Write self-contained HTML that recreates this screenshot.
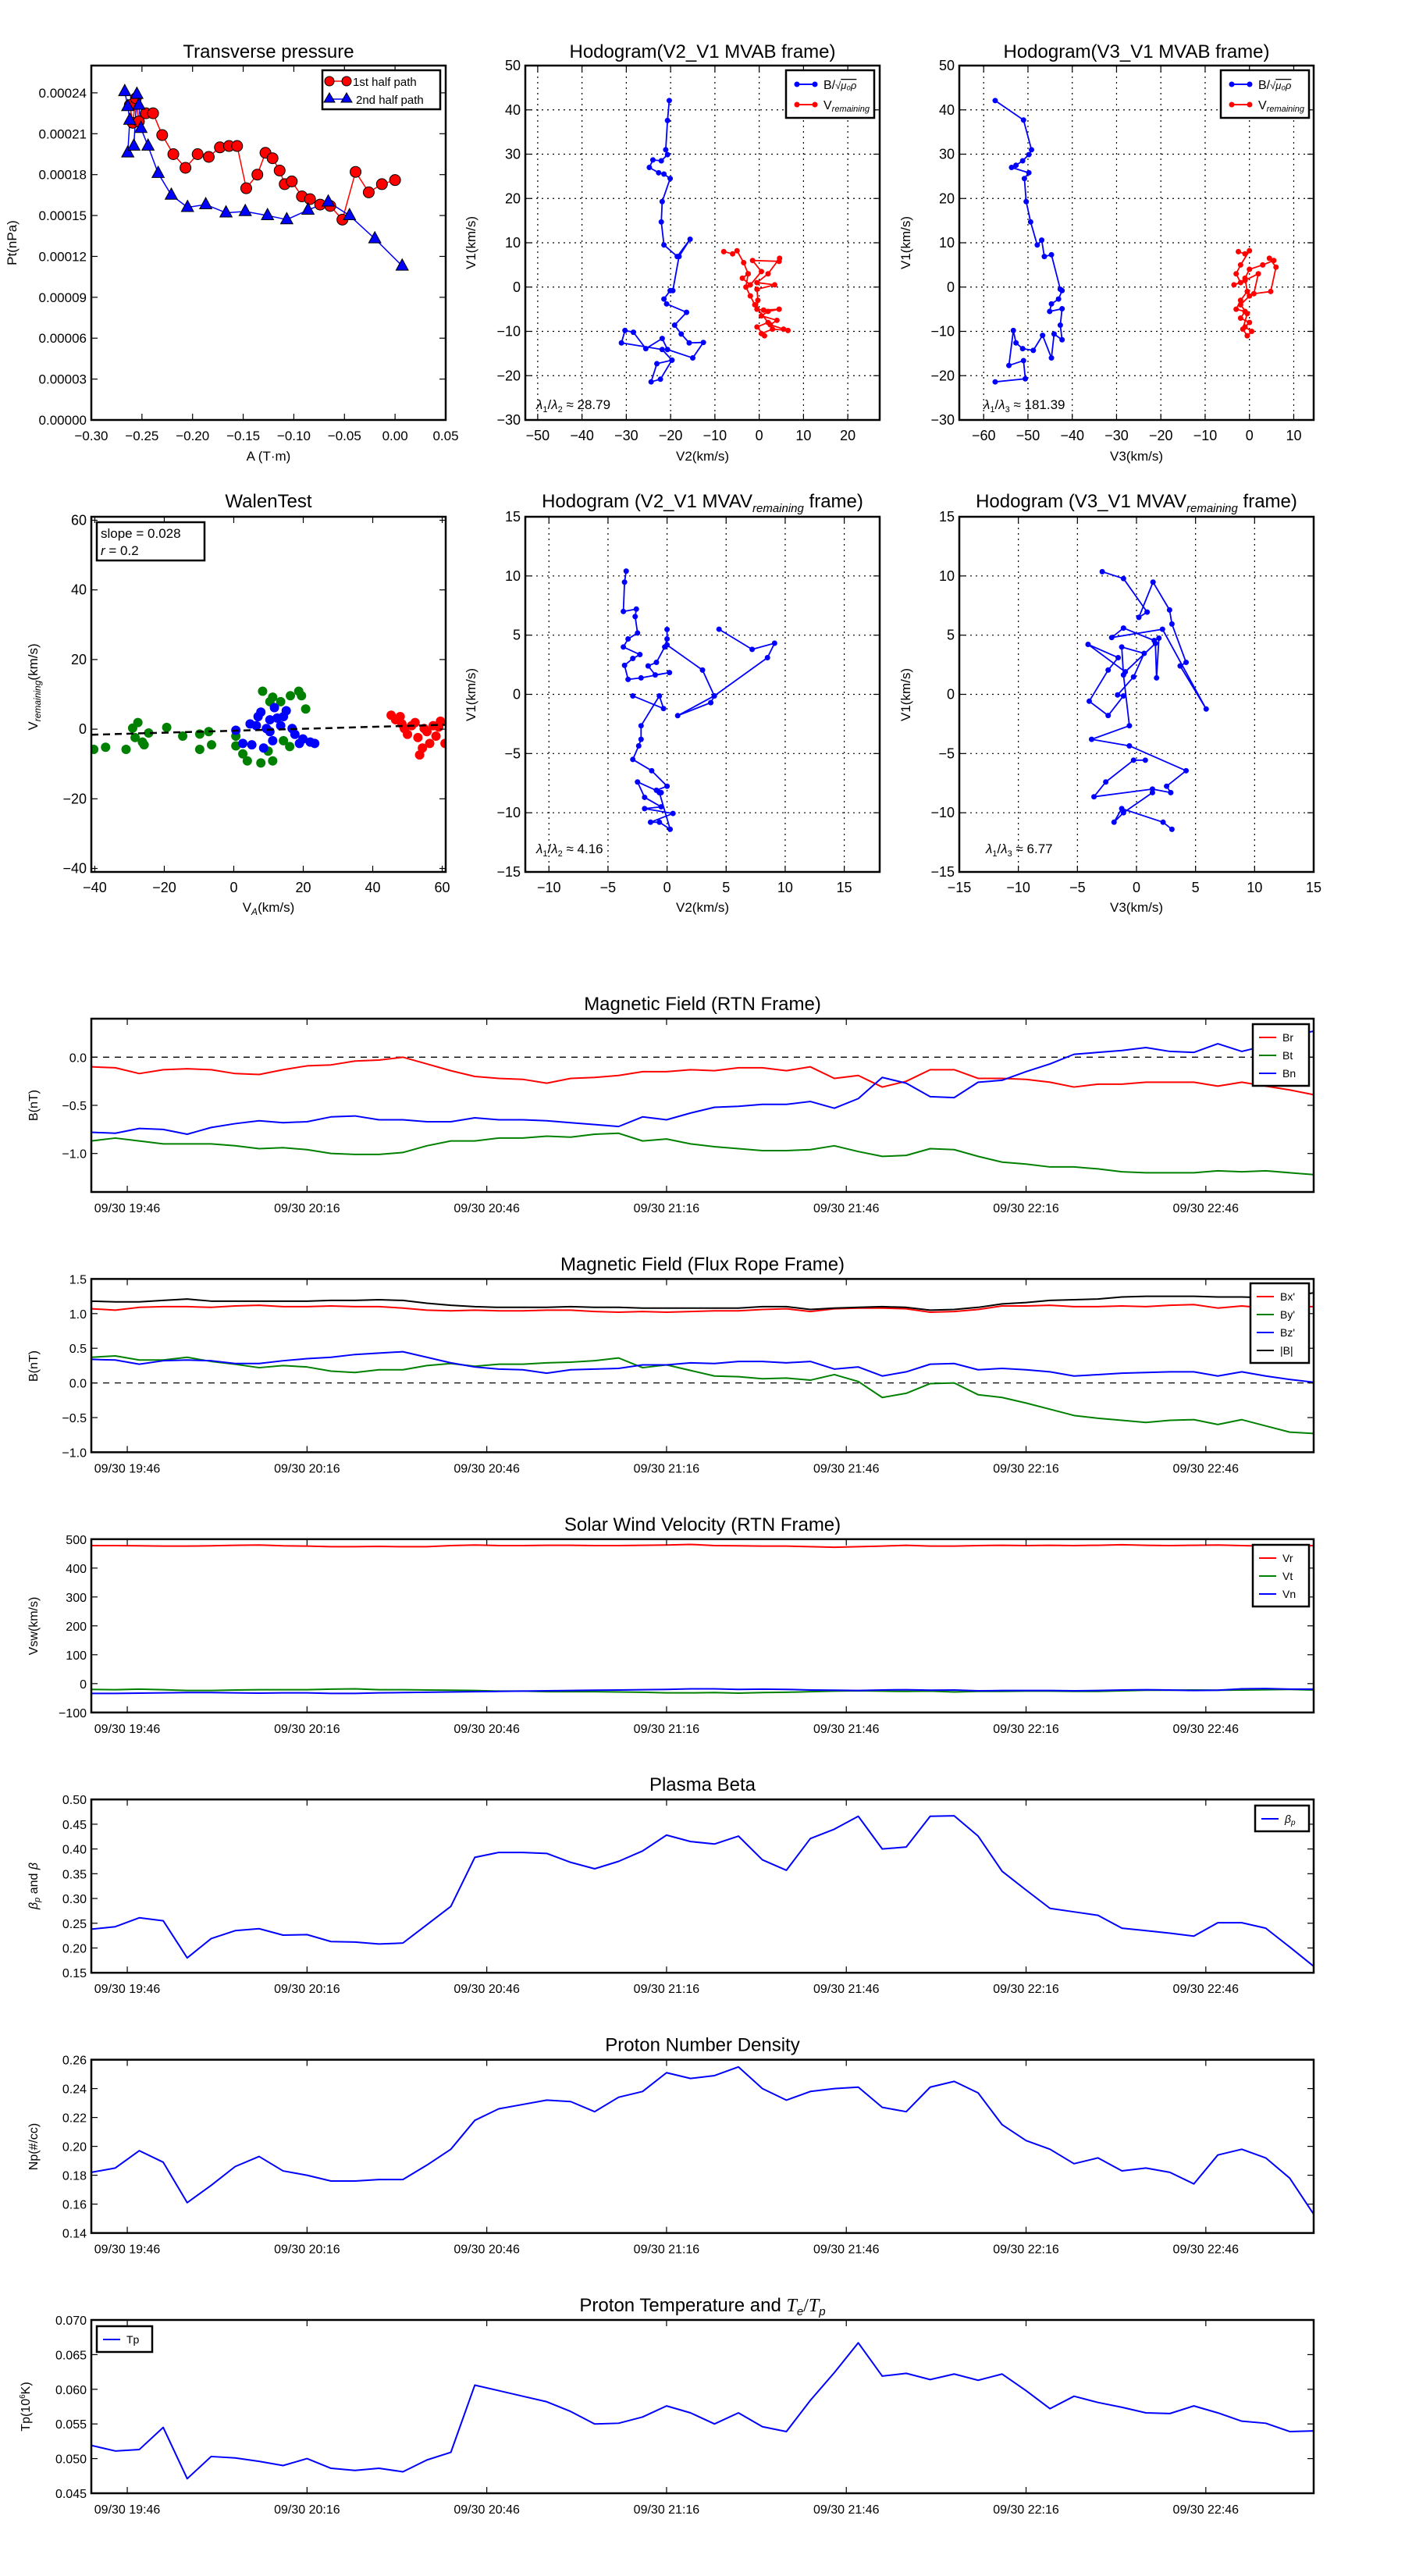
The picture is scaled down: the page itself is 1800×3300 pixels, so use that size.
<!DOCTYPE html>
<html><head><meta charset="utf-8">
<style>
html,body{margin:0;padding:0;background:#fff;}
svg{display:block;font-family:"Liberation Sans","DejaVu Sans",sans-serif;}
</style></head>
<body>
<svg id="fig" width="1800" height="3300" viewBox="0 0 1800 3300" xmlns="http://www.w3.org/2000/svg"></svg>
<script>
// ---------- DATA ----------
const trA1=[-0.262,-0.259,-0.256,-0.253,-0.246,-0.239,-0.230,-0.219,-0.207,-0.195,-0.184,-0.173,-0.164,-0.156,-0.147,-0.136,-0.128,-0.121,-0.114,-0.109,-0.102,-0.092,-0.084,-0.074,-0.064,-0.052,-0.039,-0.026,-0.013,0.000];
const trP1=[0.000231,0.000218,0.000236,0.000219,0.000225,0.000225,0.000209,0.000195,0.000185,0.000195,0.000193,0.000200,0.000201,0.000201,0.000170,0.000180,0.000196,0.000192,0.000183,0.000173,0.000175,0.000164,0.000162,0.000158,0.000157,0.000147,0.000182,0.000167,0.000173,0.000176];
const trA2=[-0.267,-0.264,-0.262,-0.264,-0.258,-0.255,-0.253,-0.251,-0.244,-0.234,-0.221,-0.205,-0.187,-0.167,-0.148,-0.126,-0.107,-0.086,-0.066,-0.045,-0.020,0.007];
const trP2=[0.000241,0.000230,0.000220,0.000196,0.000201,0.000239,0.000231,0.000214,0.000201,0.000181,0.000165,0.000156,0.000158,0.000152,0.000153,0.000150,0.000147,0.000154,0.000160,0.000150,0.000133,0.000113];

const h1bx=[-20.3,-20.7,-21.1,-20.7,-22.1,-24.0,-24.8,-22.7,-21.5,-20.1,-21.9,-22.1,-21.5,-18.5,-15.6,-18.1,-19.5,-20.1,-21.5,-20.9,-16.4,-19.1,-17.6,-15.8,-12.6,-15.0,-20.7,-21.9,-25.6,-28.4,-30.3,-31.1,-21.9,-19.7,-23.1,-24.4,-22.3,-19.7];
const h1by=[42.1,37.6,31.0,29.9,28.5,28.7,27.0,25.8,25.5,24.5,19.3,14.7,9.5,6.9,10.8,6.9,-0.8,-0.8,-2.7,-3.8,-5.7,-8.6,-10.6,-12.6,-12.5,-16.0,-14.1,-11.6,-13.9,-10.2,-9.8,-12.6,-14.1,-16.5,-17.3,-21.4,-20.8,-16.5];
const h1vx=[-8.0,-6.0,-5.0,-3.5,-2.5,-3.8,-2.0,0.5,-1.5,4.5,4.6,2.0,-0.5,3.5,-0.5,-0.3,-0.5,1.0,4.5,2.0,0.5,4.0,2.5,5.5,6.5,3.0,0.5,1.2,-0.5,2.0,-1.0,-2.0,-3.0,-2.5];
const h1vy=[8.0,7.5,8.2,5.5,3.0,2.0,0.5,3.5,6.0,5.8,6.5,3.0,1.0,0.5,-0.5,-3.0,-5.0,-5.2,-5.0,-5.5,-6.5,-7.5,-8.5,-9.5,-9.8,-9.5,-10.5,-11.0,-9.0,-8.0,-4.0,-2.0,0.0,3.0];
const h2bx=[-57.4,-51.0,-49.2,-49.8,-51.2,-52.7,-53.7,-49.8,-50.8,-50.4,-49.4,-47.9,-46.9,-46.3,-44.7,-42.7,-42.3,-43.1,-44.7,-45.1,-42.3,-42.7,-42.3,-44.1,-44.7,-46.7,-48.8,-51.2,-52.7,-53.3,-54.3,-51.0,-50.6,-57.4];
const h2by=[42.1,37.7,31.0,29.9,28.5,27.5,27.0,25.8,24.5,19.3,14.7,9.5,10.6,6.9,7.3,-0.5,-0.8,-2.7,-3.8,-5.5,-4.9,-8.6,-11.9,-10.6,-16.0,-10.9,-14.3,-13.9,-12.6,-9.8,-17.7,-16.6,-20.7,-21.4];
const h2vx=[-2.5,-1.0,0.0,-2.0,-3.0,-2.0,-3.5,-1.0,2.0,1.0,4.8,6.0,4.5,5.5,3.0,0.0,-1.0,-0.5,-2.0,-3.0,-1.0,-2.0,0.0,-1.0,0.5,-0.5,-1.5,-0.5,-2.0,0.0];
const h2vy=[8.0,7.5,8.2,5.0,3.0,1.0,0.5,1.5,3.0,-1.5,-1.0,4.5,6.5,6.0,5.0,4.0,2.0,-1.0,-3.0,-5.0,-5.5,-7.0,-8.0,-9.0,-10.0,-11.0,-9.5,-6.0,-4.0,-2.0];

const wgx=[-40.3,-36.9,-31,-29.1,-27.6,-28.4,-26.3,-25.8,-24.5,-19.3,-14.7,-9.8,-9.8,-7.2,-6.4,0.6,0.6,2.6,3.9,7.8,11.2,9.9,8.3,10.4,11.2,13.5,16.3,18.7,19.5,20.7,14.3,16.1];
const wgy=[-5.8,-5.2,-5.8,0.3,1.9,-2.4,-3.7,-4.5,-1.1,0.5,-2.0,-1.4,-5.8,-0.7,-4.5,-2.0,-4.8,-7.1,-9.1,-9.7,-9.1,-6.3,10.9,7.9,9.2,7.9,9.6,10.9,9.6,5.8,-3.3,-5.0];
const wbx=[0.6,2.6,4.7,5.2,7.0,7.8,8.6,9.4,10.4,11.2,11.7,12.5,13.5,14.3,15.1,16.8,17.6,18.9,19.9,22.0,23.3,10.4,6.5];
const wby=[-0.3,-4.1,1.5,-4.5,3.6,4.9,-5.4,0.2,2.7,-3.3,6.2,3.2,1.0,3.6,5.3,0.2,-1.5,-4.1,-2.8,-3.7,-4.1,-0.7,1.0];
const wrx=[45.3,46.6,47.9,48.4,49.1,50.0,51.2,52.2,53.0,53.5,54.3,55.6,56.4,57.4,58.2,59.5,60.8,59.0,54.8];
const wry=[4.0,2.7,3.6,1.5,0.2,-1.5,1.0,1.9,-2.4,-7.4,-5.4,-0.7,-4.1,1.0,-2.0,2.3,-4.1,0.6,0.2];
const walenSlope=0.028, walenIntercept=-0.45;

const h3x=[-3.46,-3.6,-3.7,-2.6,-2.7,-2.5,-3.3,-3.7,-2.3,-2.9,-3.6,-3.3,-2.2,0.2,-1.0,-1.6,-0.9,-0.2,0.0,0.0,0.0,3.0,4.0,3.7,0.9,4.0,8.5,9.1,7.2,4.4];
const h3y=[10.41,9.48,7.0,7.2,6.57,5.18,4.68,4.0,3.36,3.03,2.45,1.26,1.39,1.84,1.64,2.4,2.7,4.0,4.68,5.48,4.17,2.05,-0.13,-0.7,-1.8,-0.13,3.1,4.32,3.8,5.5];
const h3lx=[-2.9,-0.3,-0.65,-2.2,-2.2,-2.4,-2.9,-1.3,0.0,-0.9,-0.5,-2.5,-1.9,-0.5,-1.9,0.5,-1.4,-0.65,0.26,-0.65];
const h3ly=[-0.13,-1.2,-0.13,-2.65,-3.8,-4.35,-5.5,-6.45,-7.76,-8.1,-8.3,-7.4,-8.7,-9.5,-9.65,-10.06,-10.8,-10.8,-11.4,-8.3];
const h4x=[-2.9,-1.1,0.9,0.2,1.4,2.8,3.0,4.2,3.7,5.9,2.2,-2.1,-1.1,1.5,1.9,1.7,1.6,-0.95,-4.1,-1.55,-2.4,-4.0,-2.4,-1.1,-1.6,-0.25,0.65,-1.25,-1.1,-0.6,-3.8,-0.6,4.2,2.55,2.9,1.35,-3.6,-2.6,-0.25,0.75];
const h4y=[10.36,9.78,6.95,6.5,9.48,7.13,5.94,2.7,2.4,-1.24,5.5,4.8,5.6,4.55,4.75,1.39,4.3,1.9,4.22,3.1,2.05,-0.58,-1.79,-0.13,-0.05,1.47,3.46,4.0,1.64,-2.65,-3.8,-4.35,-6.45,-7.76,-8.3,-8.0,-8.65,-7.4,-5.56,-5.56];
const h4lx=[1.35,-1.1,-1.9,-1.25,2.25,3.0];
const h4ly=[-8.3,-10.0,-10.8,-9.65,-10.8,-11.4];

const timeTickMin=[6,36,66,96,126,156,186];
const timeTickLbl=["09/30 19:46","09/30 20:16","09/30 20:46","09/30 21:16","09/30 21:46","09/30 22:16","09/30 22:46"];
const br=[-0.10,-0.11,-0.17,-0.13,-0.12,-0.13,-0.17,-0.18,-0.13,-0.09,-0.08,-0.04,-0.03,0.00,-0.07,-0.14,-0.20,-0.22,-0.23,-0.27,-0.22,-0.21,-0.19,-0.15,-0.15,-0.13,-0.14,-0.11,-0.11,-0.14,-0.10,-0.22,-0.19,-0.31,-0.25,-0.13,-0.13,-0.22,-0.22,-0.23,-0.26,-0.31,-0.28,-0.28,-0.26,-0.26,-0.26,-0.30,-0.26,-0.30,-0.34,-0.39];
const bt=[-0.87,-0.84,-0.87,-0.90,-0.90,-0.90,-0.92,-0.95,-0.94,-0.96,-1.00,-1.01,-1.01,-0.99,-0.92,-0.87,-0.87,-0.84,-0.84,-0.82,-0.83,-0.80,-0.79,-0.87,-0.85,-0.90,-0.93,-0.95,-0.97,-0.97,-0.96,-0.92,-0.98,-1.03,-1.02,-0.95,-0.96,-1.03,-1.09,-1.11,-1.14,-1.14,-1.16,-1.19,-1.20,-1.20,-1.20,-1.18,-1.19,-1.18,-1.20,-1.22];
const bn=[-0.78,-0.79,-0.74,-0.75,-0.80,-0.73,-0.69,-0.66,-0.68,-0.67,-0.62,-0.61,-0.65,-0.65,-0.67,-0.67,-0.63,-0.65,-0.65,-0.66,-0.68,-0.70,-0.72,-0.62,-0.65,-0.58,-0.52,-0.51,-0.49,-0.49,-0.46,-0.53,-0.43,-0.21,-0.27,-0.41,-0.42,-0.26,-0.24,-0.15,-0.07,0.03,0.05,0.07,0.10,0.06,0.05,0.14,0.06,0.12,0.22,0.27];
const bxp=[1.07,1.05,1.09,1.10,1.10,1.09,1.11,1.12,1.10,1.10,1.11,1.10,1.10,1.08,1.05,1.04,1.05,1.04,1.04,1.05,1.05,1.03,1.02,1.03,1.02,1.03,1.04,1.04,1.06,1.07,1.03,1.07,1.08,1.08,1.07,1.02,1.03,1.06,1.11,1.11,1.12,1.10,1.10,1.11,1.10,1.12,1.13,1.08,1.11,1.08,1.10,1.10];
const byp=[0.37,0.39,0.33,0.33,0.37,0.31,0.27,0.22,0.25,0.23,0.17,0.15,0.19,0.19,0.25,0.28,0.24,0.27,0.27,0.29,0.30,0.32,0.36,0.22,0.26,0.18,0.10,0.09,0.06,0.07,0.04,0.12,0.02,-0.21,-0.15,-0.01,0.00,-0.17,-0.21,-0.29,-0.38,-0.47,-0.51,-0.54,-0.57,-0.54,-0.53,-0.60,-0.53,-0.62,-0.71,-0.73];
const bzp=[0.34,0.33,0.27,0.32,0.33,0.32,0.28,0.28,0.32,0.35,0.37,0.41,0.43,0.45,0.37,0.29,0.23,0.20,0.19,0.14,0.19,0.20,0.21,0.26,0.26,0.29,0.28,0.31,0.31,0.29,0.31,0.20,0.23,0.10,0.16,0.27,0.28,0.19,0.21,0.19,0.16,0.10,0.12,0.14,0.15,0.16,0.16,0.10,0.16,0.10,0.05,0.01];
const bmag=[1.18,1.17,1.17,1.19,1.21,1.18,1.18,1.18,1.18,1.18,1.19,1.19,1.20,1.19,1.15,1.12,1.10,1.09,1.09,1.09,1.10,1.09,1.09,1.08,1.08,1.08,1.08,1.08,1.10,1.10,1.06,1.08,1.09,1.10,1.09,1.05,1.06,1.09,1.14,1.16,1.19,1.20,1.21,1.24,1.25,1.25,1.25,1.24,1.24,1.23,1.24,1.30];
const vr=[478,478,477,476,476,477,479,480,477,476,474,474,475,474,474,478,480,478,478,479,479,478,478,479,480,482,478,477,476,476,474,472,474,476,479,476,476,478,479,478,479,478,479,481,479,478,479,480,478,476,476,478];
const vt=[-20,-21,-19,-21,-24,-24,-22,-21,-21,-21,-19,-18,-21,-21,-22,-23,-24,-26,-26,-28,-28,-28,-29,-30,-32,-32,-31,-33,-31,-30,-28,-26,-25,-26,-27,-26,-29,-27,-27,-26,-26,-27,-27,-25,-23,-23,-22,-23,-22,-21,-20,-22];
const vn=[-34,-34,-33,-32,-31,-31,-32,-33,-32,-32,-34,-34,-32,-31,-30,-29,-28,-27,-26,-25,-24,-23,-22,-21,-20,-18,-18,-20,-19,-20,-22,-23,-24,-22,-21,-23,-22,-25,-24,-24,-24,-25,-24,-22,-21,-22,-24,-23,-18,-17,-19,-19];
const beta=[0.238,0.243,0.261,0.255,0.180,0.219,0.235,0.239,0.226,0.227,0.213,0.212,0.208,0.210,0.247,0.284,0.383,0.393,0.393,0.391,0.373,0.360,0.375,0.396,0.428,0.415,0.410,0.426,0.378,0.357,0.421,0.440,0.466,0.400,0.404,0.466,0.467,0.426,0.355,0.317,0.280,0.273,0.266,0.240,0.235,0.230,0.224,0.251,0.251,0.240,0.202,0.163];
const np=[0.182,0.185,0.197,0.189,0.161,0.173,0.186,0.193,0.183,0.180,0.176,0.176,0.177,0.177,0.187,0.198,0.218,0.226,0.229,0.232,0.231,0.224,0.234,0.238,0.251,0.247,0.249,0.255,0.240,0.232,0.238,0.240,0.241,0.227,0.224,0.241,0.245,0.237,0.215,0.204,0.198,0.188,0.192,0.183,0.185,0.182,0.174,0.194,0.198,0.192,0.178,0.153];
const tp=[0.0519,0.0511,0.0513,0.0545,0.0471,0.0503,0.0501,0.0496,0.0490,0.0500,0.0486,0.0483,0.0486,0.0481,0.0498,0.0509,0.0606,0.0598,0.0590,0.0582,0.0568,0.0550,0.0551,0.0560,0.0576,0.0566,0.0550,0.0566,0.0546,0.0539,0.0584,0.0624,0.0667,0.0619,0.0623,0.0614,0.0622,0.0613,0.0622,0.0598,0.0572,0.0590,0.0581,0.0574,0.0566,0.0565,0.0576,0.0566,0.0554,0.0551,0.0539,0.0540];
const sampleMinutes=4;

// ---------- HELPERS ----------
const NS='http://www.w3.org/2000/svg';
const root=document.getElementById('fig');
function mk(tag,parent){const e=document.createElementNS(NS,tag);(parent||root).appendChild(e);return e;}
function at(e,o){for(const k in o)e.setAttribute(k,o[k]);return e;}
function txt(parent,x,y,s,size,anchor,extra){const t=mk('text',parent);at(t,{x:x,y:y,'font-size':size,'text-anchor':anchor||'middle',fill:'#000'});if(extra)at(t,extra);t.textContent=s;return t;}
function fmtMinus(s){return s.replace('-','\u2212');}
let clipId=0;

function axes(o){
  const g=mk('g');
  
  
  const sx=v=>o.x0+(v-o.xmin)/(o.xmax-o.xmin)*o.w;
  const sy=v=>o.y0+o.h-(v-o.ymin)/(o.ymax-o.ymin)*o.h;
  const cid='clip'+(clipId++);
  const cp=mk('clipPath',g);at(cp,{id:cid});
  at(mk('rect',cp),{x:o.x0,y:o.y0,width:o.w,height:o.h});
  if(o.grid){
    const gg=mk('g',g);
    
    
    o.xt.forEach(v=>at(mk('line',gg),{x1:sx(v),x2:sx(v),y1:o.y0,y2:o.y0+o.h,stroke:'#000','stroke-width':1.2,'stroke-dasharray':'2,5'}));
    o.yt.forEach(v=>at(mk('line',gg),{x1:o.x0,x2:o.x0+o.w,y1:sy(v),y2:sy(v),stroke:'#000','stroke-width':1.2,'stroke-dasharray':'2,5'}));
  }
  const dg=mk('g',g);at(dg,{'clip-path':'url(#'+cid+')'});
  
  
  const tg=mk('g',g);
  
  
  const xv=o.xtPos||o.xt;
  xv.forEach((v,i)=>{const X=sx(v);
    at(mk('line',tg),{x1:X,x2:X,y1:o.y0+o.h,y2:o.y0+o.h-8,stroke:'#000','stroke-width':1.2});
    at(mk('line',tg),{x1:X,x2:X,y1:o.y0,y2:o.y0+8,stroke:'#000','stroke-width':1.2});
    const lab=txt(tg,X,o.y0+o.h+26,o.xl?o.xl[i]:fmtMinus(o.xf(v)),o.fs||18,'middle');
    
    
  });
  o.yt.forEach(v=>{const Y=sy(v);
    at(mk('line',tg),{x1:o.x0,x2:o.x0+8,y1:Y,y2:Y,stroke:'#000','stroke-width':1.2});
    at(mk('line',tg),{x1:o.x0+o.w,x2:o.x0+o.w-8,y1:Y,y2:Y,stroke:'#000','stroke-width':1.2});
    const lab=txt(tg,o.x0-6,Y+6,fmtMinus(o.yf(v)),o.fs||18,'end');
    
    
  });
  const fr=mk('rect',g);at(fr,{x:o.x0,y:o.y0,width:o.w,height:o.h,fill:'none',stroke:'#000','stroke-width':o.sw||2.5});
  
  
  return {g,dg,sx,sy};
}
function rng(a,b,s){const r=[];for(let v=a;v<=b+1e-9;v+=s)r.push(Math.round(v*1e6)/1e6);return r;}
function poly(parent,xs,ys,sx,sy,color,w,dash){const p=mk('polyline',parent);at(p,{points:xs.map((x,i)=>sx(x)+','+sy(ys[i])).join(' '),fill:'none',stroke:color,'stroke-width':w||1.5,'stroke-linejoin':'round'});if(dash)p.setAttribute('stroke-dasharray',dash);return p;}
function dots(parent,xs,ys,sx,sy,color,r,stroke){const g=mk('g',parent);xs.forEach((x,i)=>{const c=mk('circle',g);at(c,{cx:sx(x),cy:sy(ys[i]),r:r,fill:color});if(stroke)at(c,{stroke:stroke,'stroke-width':1});});return g;}
function tris(parent,xs,ys,sx,sy,color,s){const g=mk('g',parent);xs.forEach((x,i)=>{const X=sx(x),Y=sy(ys[i]);const p=mk('polygon',g);at(p,{points:`${X},${Y-s} ${X-s*0.87},${Y+s*0.6} ${X+s*0.87},${Y+s*0.6}`,fill:color,stroke:'#000','stroke-width':1});});return g;}
function title(x,y,s,name){const t=txt(root,x,y,s,24,'middle');return t;}
function label(x,y,s,name,rot,size){const t=txt(root,x,y,s,size||17,'middle');if(rot)t.setAttribute('transform',`rotate(-90 ${x} ${y})`);return t;}
function legendBox(g,x,y,w,h){const r=mk('rect',g);at(r,{x:x,y:y,width:w,height:h,fill:'#fff',stroke:'#000','stroke-width':2.5});return r;}

// ---------- ROW 1 ----------
title(344,74,'Transverse pressure','title-transverse-pressure');
const a1=axes({name:'transverse-pressure-axes',x0:117,y0:84,w:454,h:454,xmin:-0.30,xmax:0.05,ymin:0,ymax:0.00026,xt:rng(-0.30,0.05,0.05),yt:rng(0,0.00024,0.00003),xf:v=>v.toFixed(2),yf:v=>v.toFixed(5),fs:17});
const s1r=poly(a1.dg,trA1,trP1,a1.sx,a1.sy,'#f00',1.5);


const s1b=poly(a1.dg,trA2,trP2,a1.sx,a1.sy,'#00f',1.5);


const m1r=dots(a1.dg,trA1,trP1,a1.sx,a1.sy,'#f00',7,'#000');


const m1b=tris(a1.dg,trA2,trP2,a1.sx,a1.sy,'#00f',9);


{const lg=mk('g');
 legendBox(lg,413,90,151,50);
 at(mk('line',lg),{x1:421,x2:445,y1:104,y2:104,stroke:'#f00','stroke-width':1.5});
 at(mk('circle',lg),{cx:422,cy:104,r:6,fill:'#f00',stroke:'#000'});at(mk('circle',lg),{cx:444,cy:104,r:6,fill:'#f00',stroke:'#000'});
 txt(lg,452,110,'1st half path',15,'start');
 at(mk('line',lg),{x1:421,x2:445,y1:127,y2:127,stroke:'#00f','stroke-width':1.5});
 at(mk('polygon',lg),{points:'422,119 415,131 429,131',fill:'#00f',stroke:'#000'});at(mk('polygon',lg),{points:'444,119 437,131 451,131',fill:'#00f',stroke:'#000'});
 txt(lg,456,133,'2nd half path',15,'start');}
label(21,311,'Pt(nPa)','y-axis-title-pt',true);
label(344,590,'A (T·m)','x-axis-title-a');

function hodoLegend(x,y,name){const lg=mk('g');
 legendBox(lg,x,y,113,61);
 at(mk('line',lg),{x1:x+14,x2:x+37,y1:y+18,y2:y+18,stroke:'#00f','stroke-width':2});
 at(mk('circle',lg),{cx:x+14,cy:y+18,r:3.5,fill:'#00f'});at(mk('circle',lg),{cx:x+37,cy:y+18,r:3.5,fill:'#00f'});
 const t=txt(lg,x+48,y+24,'',16,'start');t.innerHTML='B/<tspan font-size="13">√</tspan><tspan font-style="italic" font-size="13" text-decoration="overline">μ₀ρ</tspan>';
 at(mk('line',lg),{x1:x+14,x2:x+37,y1:y+44,y2:y+44,stroke:'#f00','stroke-width':2});
 at(mk('circle',lg),{cx:x+14,cy:y+44,r:3.5,fill:'#f00'});at(mk('circle',lg),{cx:x+37,cy:y+44,r:3.5,fill:'#f00'});
 const t2=txt(lg,x+48,y+50,'',16,'start');t2.innerHTML='V<tspan font-style="italic" font-size="11" dy="3">remaining</tspan>';}

title(900,74,'Hodogram(V2_V1 MVAB frame)','title-hodogram-v2-v1-mvab');
const a2=axes({name:'hodogram-v2-v1-mvab-axes',x0:673,y0:84,w:454,h:454,xmin:-52.8,xmax:27.2,ymin:-30,ymax:50,xt:rng(-50,20,10),yt:rng(-30,50,10),xf:v=>String(v),yf:v=>String(v),grid:true});
{const l=poly(a2.dg,h1bx,h1by,a2.sx,a2.sy,'#00f',1.8);
 const d=dots(a2.dg,h1bx,h1by,a2.sx,a2.sy,'#00f',3.5);
 const l2=poly(a2.dg,h1vx,h1vy,a2.sx,a2.sy,'#f00',1.8);
 const d2=dots(a2.dg,h1vx,h1vy,a2.sx,a2.sy,'#f00',3.5);}
hodoLegend(1007,90,'legend-hodogram-v2-v1');
{const t=txt(root,687,524,'',17,'start');t.innerHTML='<tspan font-style="italic">λ</tspan><tspan font-size="11" dy="4">1</tspan><tspan dy="-4">/</tspan><tspan font-style="italic">λ</tspan><tspan font-size="11" dy="4">2</tspan><tspan dy="-4"> ≈ 28.79</tspan>';}
label(609,311,'V1(km/s)','y-axis-title-v1-a',true);
label(900,590,'V2(km/s)','x-axis-title-v2-a');

title(1456,74,'Hodogram(V3_V1 MVAB frame)','title-hodogram-v3-v1-mvab');
const a3=axes({name:'hodogram-v3-v1-mvab-axes',x0:1229,y0:84,w:454,h:454,xmin:-65.5,xmax:14.5,ymin:-30,ymax:50,xt:rng(-60,10,10),yt:rng(-30,50,10),xf:v=>String(v),yf:v=>String(v),grid:true});
{const l=poly(a3.dg,h2bx,h2by,a3.sx,a3.sy,'#00f',1.8);
 const d=dots(a3.dg,h2bx,h2by,a3.sx,a3.sy,'#00f',3.5);
 const l2=poly(a3.dg,h2vx,h2vy,a3.sx,a3.sy,'#f00',1.8);
 const d2=dots(a3.dg,h2vx,h2vy,a3.sx,a3.sy,'#f00',3.5);}
hodoLegend(1564,90,'legend-hodogram-v3-v1');
{const t=txt(root,1260,524,'',17,'start');t.innerHTML='<tspan font-style="italic">λ</tspan><tspan font-size="11" dy="4">1</tspan><tspan dy="-4">/</tspan><tspan font-style="italic">λ</tspan><tspan font-size="11" dy="4">3</tspan><tspan dy="-4"> ≈ 181.39</tspan>';}
label(1166,311,'V1(km/s)','y-axis-title-v1-b',true);
label(1456,590,'V3(km/s)','x-axis-title-v3-a');

// ---------- ROW 2 ----------
title(344,650,'WalenTest','title-walen-test');
const a4=axes({name:'walen-test-axes',x0:117,y0:662,w:454,h:455,xmin:-41,xmax:61,ymin:-41,ymax:61,xt:rng(-40,60,20),yt:rng(-40,60,20),xf:v=>String(v),yf:v=>String(v)});
{const dg=dots(a4.dg,wgx,wgy,a4.sx,a4.sy,'#008000',6);
 const db=dots(a4.dg,wbx,wby,a4.sx,a4.sy,'#00f',6);
 const dr=dots(a4.dg,wrx,wry,a4.sx,a4.sy,'#f00',6);
 const fx=[-41,61];const fy=fx.map(x=>walenSlope*x+walenIntercept);
 const fl=poly(a4.dg,fx,fy,a4.sx,a4.sy,'#000',2.5,'9,6');}
{const g=mk('g');
 legendBox(g,124,669,138,49);
 txt(g,129,689,'slope = 0.028',17,'start');
 const t=txt(g,129,711,'',17,'start');t.innerHTML='<tspan font-style="italic">r</tspan> = 0.2';}
{const t=label(48,880,'',' y-axis-title-v-remaining'.trim(),true);t.innerHTML='V<tspan font-style="italic" font-size="12" dy="4">remaining</tspan><tspan dy="-4">(km/s)</tspan>';}
{const t=label(344,1168,'','x-axis-title-va');t.innerHTML='V<tspan font-style="italic" font-size="12" dy="4">A</tspan><tspan dy="-4">(km/s)</tspan>';}

function row2Title(x,s,name){const t=title(x,650,'',name);t.innerHTML=s+'<tspan font-style="italic" font-size="15" dy="6">remaining</tspan><tspan dy="-6"> frame)</tspan>';}
row2Title(900,'Hodogram (V2_V1 MVAV','title-hodogram-v2-v1-mvav');
const a5=axes({name:'hodogram-v2-v1-mvav-axes',x0:673,y0:662,w:454,h:455,xmin:-12,xmax:18,ymin:-15,ymax:15,xt:rng(-10,15,5),yt:rng(-15,15,5),xf:v=>String(v),yf:v=>String(v),grid:true});
{const l=poly(a5.dg,h3x,h3y,a5.sx,a5.sy,'#00f',1.8);
 const d=dots(a5.dg,h3x,h3y,a5.sx,a5.sy,'#00f',3.5);
 const l2=poly(a5.dg,h3lx,h3ly,a5.sx,a5.sy,'#00f',1.8);
 const d2=dots(a5.dg,h3lx,h3ly,a5.sx,a5.sy,'#00f',3.5);}
{const t=txt(root,687,1093,'',17,'start');t.innerHTML='<tspan font-style="italic">λ</tspan><tspan font-size="11" dy="4">1</tspan><tspan dy="-4">/</tspan><tspan font-style="italic">λ</tspan><tspan font-size="11" dy="4">2</tspan><tspan dy="-4"> ≈ 4.16</tspan>';}
label(609,890,'V1(km/s)','y-axis-title-v1-c',true);
label(900,1168,'V2(km/s)','x-axis-title-v2-b');

row2Title(1456,'Hodogram (V3_V1 MVAV','title-hodogram-v3-v1-mvav');
const a6=axes({name:'hodogram-v3-v1-mvav-axes',x0:1229,y0:662,w:454,h:455,xmin:-15,xmax:15,ymin:-15,ymax:15,xt:rng(-15,15,5),yt:rng(-15,15,5),xf:v=>String(v),yf:v=>String(v),grid:true});
{const l=poly(a6.dg,h4x,h4y,a6.sx,a6.sy,'#00f',1.8);
 const d=dots(a6.dg,h4x,h4y,a6.sx,a6.sy,'#00f',3.5);
 const l2=poly(a6.dg,h4lx,h4ly,a6.sx,a6.sy,'#00f',1.8);
 const d2=dots(a6.dg,h4lx,h4ly,a6.sx,a6.sy,'#00f',3.5);}
{const t=txt(root,1263,1093,'',17,'start');t.innerHTML='<tspan font-style="italic">λ</tspan><tspan font-size="11" dy="4">1</tspan><tspan dy="-4">/</tspan><tspan font-style="italic">λ</tspan><tspan font-size="11" dy="4">3</tspan><tspan dy="-4"> ≈ 6.77</tspan>';}
label(1166,890,'V1(km/s)','y-axis-title-v1-d',true);
label(1456,1168,'V3(km/s)','x-axis-title-v3-b');

// ---------- TIME SERIES ----------
const tIdx=br.map((_,i)=>i*sampleMinutes);
function tsPanel(k,name,ymin,ymax,yt,yf,ttl){
  const y0=1305+k*333.4;
  const t=title(900,y0-11,'', 'title-'+name);t.innerHTML=ttl;
  return axes({name:name+'-axes',x0:117,y0:y0,w:1566,h:222,xmin:0,xmax:204,ymin:ymin,ymax:ymax,xt:timeTickMin,xl:timeTickLbl,yt:yt,xf:v=>'',yf:yf,fs:16,sw:2.5});
}
function series(ax,ys,color,name){const p=poly(ax.dg,tIdx,ys,ax.sx,ax.sy,color,2);}
function zeroLine(ax){const p=poly(ax.dg,[0,204],[0,0],ax.sx,ax.sy,'#000',1.3,'8,7');}
function tsLegend(x,y,w,items,name){const lg=mk('g');
  legendBox(lg,x,y,w,items.length*23+10);
  items.forEach((it,i)=>{const Y=y+17+i*23;at(mk('line',lg),{x1:x+8,x2:x+30,y1:Y,y2:Y,stroke:it[1],'stroke-width':2});const t=txt(lg,x+38,Y+5,'',14,'start');t.innerHTML=it[0];});}

const p1=tsPanel(0,'magnetic-field-rtn',-1.4,0.4,[-1.0,-0.5,0.0],v=>v.toFixed(1),'Magnetic Field (RTN Frame)');
zeroLine(p1);series(p1,br,'#f00','br-line');series(p1,bt,'#008000','bt-line');series(p1,bn,'#00f','bn-line');
tsLegend(1605,1312,72,[['Br','#f00'],['Bt','#008000'],['Bn','#00f']],'legend-rtn');
label(48,1416,'B(nT)','y-axis-title-b-rtn',true,16);

const p2=tsPanel(1,'magnetic-field-flux-rope',-1.0,1.5,rng(-1.0,1.5,0.5),v=>v.toFixed(1),'Magnetic Field (Flux Rope Frame)');
zeroLine(p2);series(p2,bxp,'#f00','bx-prime-line');series(p2,byp,'#008000','by-prime-line');series(p2,bzp,'#00f','bz-prime-line');series(p2,bmag,'#000','b-magnitude-line');
tsLegend(1602,1644,75,[["Bx'",'#f00'],["By'",'#008000'],["Bz'",'#00f'],['|B|','#000']],'legend-flux-rope');
label(48,1750,'B(nT)','y-axis-title-b-flux',true,16);

const p3=tsPanel(2,'solar-wind-velocity',-100,500,rng(-100,500,100),v=>String(v),'Solar Wind Velocity (RTN Frame)');
series(p3,vr,'#f00','vr-line');series(p3,vt,'#008000','vt-line');series(p3,vn,'#00f','vn-line');
tsLegend(1605,1979,72,[['Vr','#f00'],['Vt','#008000'],['Vn','#00f']],'legend-velocity');
label(48,2083,'Vsw(km/s)','y-axis-title-vsw',true,16);

const p4=tsPanel(3,'plasma-beta',0.15,0.50,rng(0.15,0.50,0.05),v=>v.toFixed(2),'Plasma Beta');
series(p4,beta,'#00f','beta-line');
tsLegend(1608,2313,69,[['<tspan font-style="italic">β</tspan><tspan font-size="10" font-style="italic" dy="3">p</tspan>','#00f']],'legend-beta');
{const t=label(48,2416,'','y-axis-title-beta',true,16);t.innerHTML='<tspan font-style="italic">β</tspan><tspan font-style="italic" font-size="11" dy="3">p</tspan><tspan dy="-3"> and </tspan><tspan font-style="italic">β</tspan>';}

const p5=tsPanel(4,'proton-number-density',0.14,0.26,rng(0.14,0.26,0.02),v=>v.toFixed(2),'Proton Number Density');
series(p5,np,'#00f','np-line');
label(48,2750,'Np(#/cc)','y-axis-title-np',true,16);

const p6=tsPanel(5,'proton-temperature',0.045,0.070,rng(0.045,0.070,0.005),v=>v.toFixed(3),'Proton Temperature and <tspan font-style="italic" font-family="Liberation Serif">T</tspan><tspan font-style="italic" font-size="15" dy="5">e</tspan><tspan dy="-5" font-family="Liberation Serif">/</tspan><tspan font-style="italic" font-family="Liberation Serif">T</tspan><tspan font-style="italic" font-size="15" dy="5">p</tspan>');
series(p6,tp,'#00f','tp-line');
tsLegend(124,2980,71,[['Tp','#00f']],'legend-tp');
{const t=label(38,3083,'','y-axis-title-tp',true,16);t.innerHTML='Tp(10<tspan font-size="10" dy="-6">6</tspan><tspan dy="6">K)</tspan>';}
</script>
</body></html>
